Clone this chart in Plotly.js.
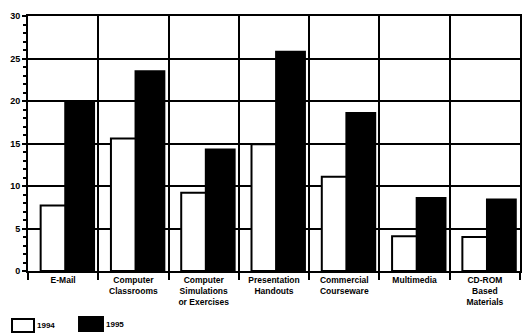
<!DOCTYPE html>
<html>
<head>
<meta charset="utf-8">
<script src="https://cdn.plot.ly/plotly-3.0.1.min.js"></script>
<style>html,body{margin:0;padding:0;background:#fff;}#chart{width:523px;height:335px;}</style>
</head>
<body>
<div id="chart"></div>
<script>
const categories = ["E-Mail", "Computer<br>Classrooms", "Computer<br>Simulations<br>or Exercises", "Presentation<br>Handouts", "Commercial<br>Courseware", "Multimedia", "CD-ROM<br>Based<br>Materials"];
const seriesNames = ["1994", "1995"];
const values1994 = [7.7, 15.6, 9.2, 14.9, 11.1, 4.1, 4.0];
const values1995 = [20.0, 23.5, 14.3, 25.8, 18.6, 8.6, 8.4];
const yTicks = [0, 5, 10, 15, 20, 25, 30];

const fam = "Liberation Sans, Arial, sans-serif";

const traces = [
  {type: "bar", name: seriesNames[0], x: categories, y: values1994,
   offset: -0.32, width: 0.36,
   marker: {color: "#fff", line: {color: "#000", width: 2}}, showlegend: false},
  {type: "bar", name: seriesNames[1], x: categories, y: values1995,
   offset: 0.03, width: 0.41,
   marker: {color: "#000", line: {color: "#000", width: 2}}, showlegend: false}
];

const layout = {
  width: 523, height: 335,
  margin: {l: 28, r: 3, t: 16, b: 64},
  paper_bgcolor: "#fff", plot_bgcolor: "#fff",
  barmode: "overlay",
  font: {family: fam, size: 8, color: "#000"},
  xaxis: {
    type: "category", tickson: "boundaries", ticks: "outside", ticklen: 7, tickwidth: 2, tickcolor: "#000",
    showgrid: true, gridcolor: "#000", gridwidth: 2,
    showline: true, linecolor: "#000", linewidth: 2, mirror: true,
    tickfont: {family: fam, size: 8.5, color: "#000", weight: "bold"},
    tickangle: 0
  },
  yaxis: {
    range: [yTicks[0], yTicks[yTicks.length - 1]], tickmode: "linear", tick0: yTicks[0], dtick: yTicks[1] - yTicks[0],
    ticks: "outside", ticklen: 4, tickwidth: 2, tickcolor: "#000",
    minor: {dtick: 1, ticks: "outside", ticklen: 3, tickwidth: 2, tickcolor: "#000"},
    showgrid: true, gridcolor: "#000", gridwidth: 2, zeroline: false,
    showline: true, linecolor: "#000", linewidth: 2, mirror: true,
    tickfont: {family: fam, size: 9, color: "#000", weight: "bold"}
  },
  shapes: [
    {type: "rect", xref: "paper", yref: "paper", x0: -0.0325, x1: 0.0122, y0: -0.239, y1: -0.188,
     fillcolor: "#fff", line: {color: "#000", width: 2}},
    {type: "rect", xref: "paper", yref: "paper", x0: 0.1037, x1: 0.1524, y0: -0.235, y1: -0.180,
     fillcolor: "#000", line: {color: "#000", width: 2}}
  ],
  annotations: [
    {xref: "paper", yref: "paper", x: 0.0142, y: -0.212, xanchor: "left", yanchor: "middle", showarrow: false,
     text: seriesNames[0], font: {family: fam, size: 8, weight: "bold", color: "#000"}},
    {xref: "paper", yref: "paper", x: 0.154, y: -0.208, xanchor: "left", yanchor: "middle", showarrow: false,
     text: seriesNames[1], font: {family: fam, size: 8, weight: "bold", color: "#000"}}
  ]
};

Plotly.newPlot("chart", traces, layout, {displayModeBar: false, staticPlot: true});
</script>
</body>
</html>
